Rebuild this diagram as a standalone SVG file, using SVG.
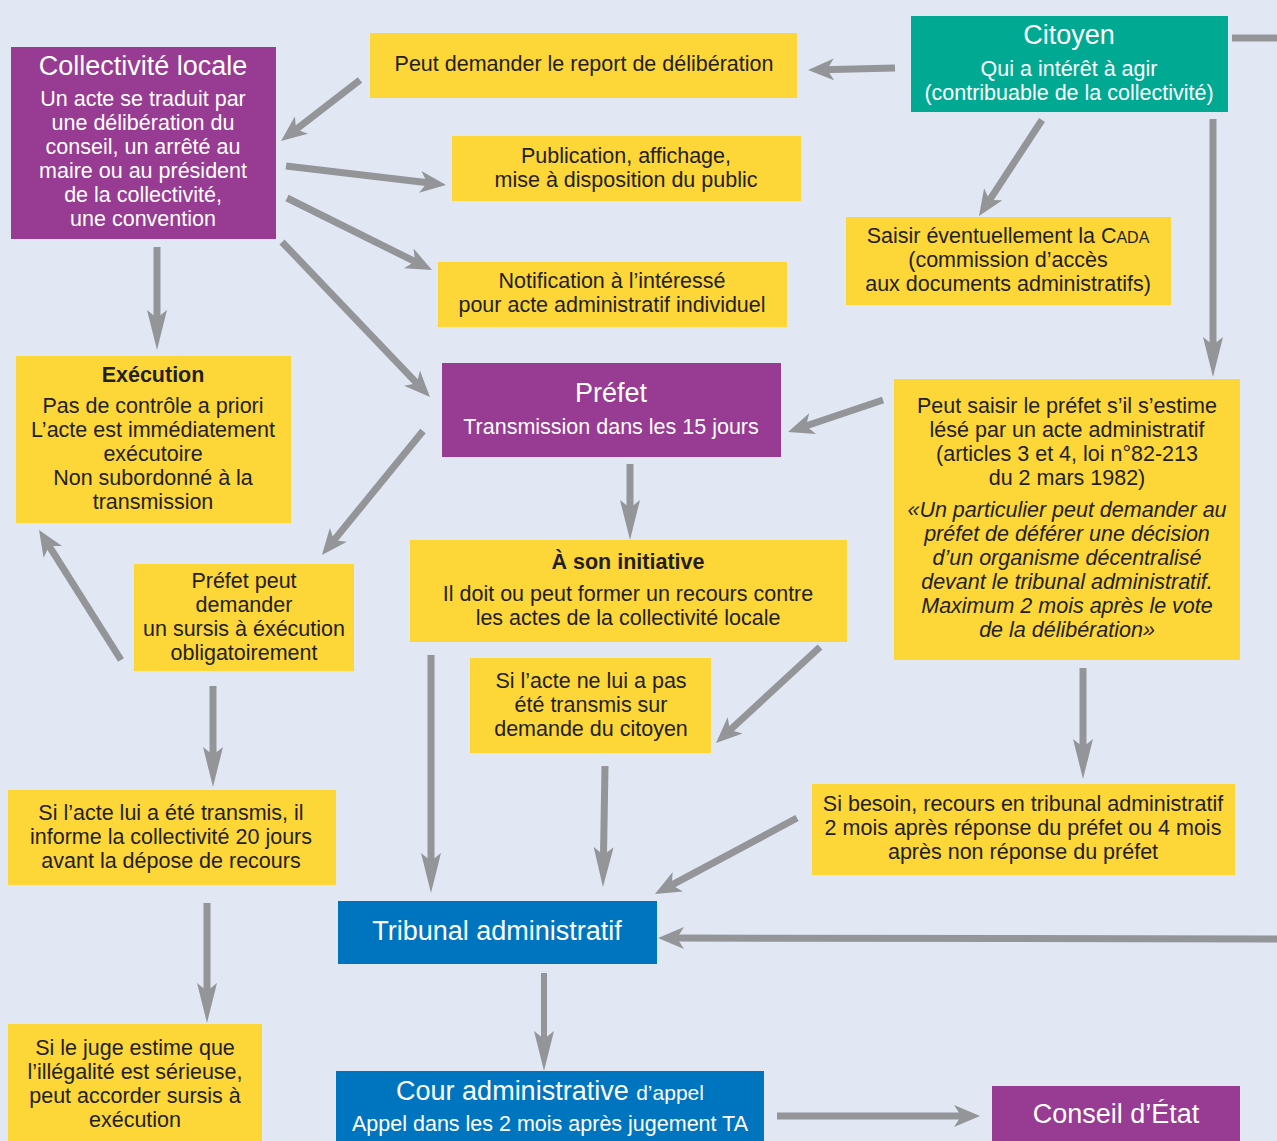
<svg xmlns="http://www.w3.org/2000/svg" width="1277" height="1141" viewBox="0 0 1277 1141">
<defs>
<style>
.bg{fill:#e1e8f4}
.y{fill:#fdd638}
.p{fill:#973b93}
.g{fill:#00a991}
.b{fill:#0075bf}
text{font-family:"Liberation Sans",Arial,Helvetica,sans-serif;text-anchor:middle}
.t{font-size:21.5px;fill:#231f20}
.tb{font-size:21.5px;fill:#231f20;font-weight:bold}
.ti{font-size:21.5px;fill:#231f20;font-style:italic}
.w{font-size:21.5px;fill:#ffffff}
.wh{font-size:27px;fill:#ffffff}
.c line{stroke:#939598;stroke-width:7;fill:none}
.c line.s{marker-end:url(#ah)}
.c line.l{marker-end:url(#al)}
</style>
<marker id="ah" markerUnits="userSpaceOnUse" viewBox="0 -11 26 22" refX="12" refY="0" markerWidth="26" markerHeight="22" orient="auto">
<path d="M0,-11 L26,0 L0,11 L7,0 Z" fill="#939598"/>
</marker>
<marker id="al" markerUnits="userSpaceOnUse" viewBox="0 -10 40 20" refX="20" refY="0" markerWidth="40" markerHeight="20" orient="auto">
<path d="M0,-10 L40,0 L0,10 L8,0 Z" fill="#939598"/>
</marker>
</defs>
<rect class="bg" x="0" y="0" width="1277" height="1141"/>

<g id="connectors" class="c">
<line class="s" x1="360" y1="80" x2="292.1" y2="132.4"/>
<line class="s" x1="895" y1="68" x2="822" y2="69.7"/>
<line class="s" x1="286" y1="166" x2="432.1" y2="183.3"/>
<line class="s" x1="287" y1="198" x2="419.5" y2="263.8"/>
<line class="s" x1="282" y1="242" x2="420.3" y2="386.9"/>
<line class="l" x1="157" y1="247" x2="157" y2="330"/>
<line class="s" x1="1042" y1="120" x2="986.7" y2="204.3"/>
<line class="l" x1="1213" y1="119" x2="1213" y2="357"/>
<line class="s" x1="883" y1="400" x2="801.3" y2="427.5"/>
<line class="l" x1="630" y1="464" x2="630" y2="520"/>
<line class="s" x1="423" y1="431" x2="330.8" y2="544.1"/>
<line class="s" x1="121" y1="660" x2="46.5" y2="541.8"/>
<line class="l" x1="213" y1="686" x2="213" y2="767"/>
<line class="s" x1="820" y1="647" x2="726.3" y2="733.5"/>
<line class="l" x1="431" y1="655" x2="431" y2="873"/>
<line class="l" x1="605" y1="766" x2="603.3" y2="867"/>
<line class="l" x1="1083" y1="668" x2="1083" y2="759"/>
<line class="s" x1="797" y1="818" x2="667.3" y2="887.4"/>
<line class="s" x1="1277" y1="939" x2="672" y2="938"/>
<line class="l" x1="207" y1="903" x2="207" y2="1003"/>
<line class="l" x1="544" y1="973" x2="544" y2="1051" style="stroke-width:6"/>
<line class="s" x1="777" y1="1116" x2="966" y2="1116"/>
<line x1="1232" y1="38" x2="1277" y2="38"/>
</g>

<g id="collectivite">
<rect class="p" x="11" y="47" width="265" height="192"/>
<text class="wh" x="143" y="75">Collectivité locale</text>
<text class="w" x="143" y="106">Un acte se traduit par</text>
<text class="w" x="143" y="130">une délibération du</text>
<text class="w" x="143" y="154">conseil, un arrêté au</text>
<text class="w" x="143" y="178">maire ou au président</text>
<text class="w" x="143" y="202">de la collectivité,</text>
<text class="w" x="143" y="226">une convention</text>
</g>

<g id="report">
<rect class="y" x="370" y="33" width="427" height="65"/>
<text class="t" x="584" y="71">Peut demander le report de délibération</text>
</g>

<g id="citoyen">
<rect class="g" x="911" y="16" width="317" height="96"/>
<text class="wh" x="1069" y="44">Citoyen</text>
<text class="w" x="1069" y="76">Qui a intérêt à agir</text>
<text class="w" x="1069" y="100">(contribuable de la collectivité)</text>
</g>

<g id="publication">
<rect class="y" x="452" y="136" width="349" height="65"/>
<text class="t" x="626" y="163">Publication, affichage,</text>
<text class="t" x="626" y="187">mise à disposition du public</text>
</g>

<g id="cada">
<rect class="y" x="846" y="217" width="325" height="88"/>
<text class="t" x="1008" y="243">Saisir éventuellement la C<tspan style="font-size:16px">ADA</tspan></text>
<text class="t" x="1008" y="267">(commission d’accès</text>
<text class="t" x="1008" y="291">aux documents administratifs)</text>
</g>

<g id="notification">
<rect class="y" x="438" y="262" width="349" height="65"/>
<text class="t" x="612" y="288">Notification à l’intéressé</text>
<text class="t" x="612" y="312">pour acte administratif individuel</text>
</g>

<g id="prefet">
<rect class="p" x="442" y="363" width="339" height="94"/>
<text class="wh" x="611" y="402">Préfet</text>
<text class="w" x="611" y="434">Transmission dans les 15 jours</text>
</g>

<g id="execution">
<rect class="y" x="16" y="356" width="275" height="167"/>
<text class="tb" x="153" y="382">Exécution</text>
<text class="t" x="153" y="413">Pas de contrôle a priori</text>
<text class="t" x="153" y="437">L’acte est immédiatement</text>
<text class="t" x="153" y="461">exécutoire</text>
<text class="t" x="153" y="485">Non subordonné à la</text>
<text class="t" x="153" y="509">transmission</text>
</g>

<g id="saisir-prefet">
<rect class="y" x="894" y="379" width="346" height="281"/>
<text class="t" x="1067" y="413">Peut saisir le préfet s’il s’estime</text>
<text class="t" x="1067" y="437">lésé par un acte administratif</text>
<text class="t" x="1067" y="461">(articles 3 et 4, loi n°82-213</text>
<text class="t" x="1067" y="485">du 2 mars 1982)</text>
<text class="ti" x="1067" y="517">«Un particulier peut demander au</text>
<text class="ti" x="1067" y="541">préfet de déférer une décision</text>
<text class="ti" x="1067" y="565">d’un organisme décentralisé</text>
<text class="ti" x="1067" y="589">devant le tribunal administratif.</text>
<text class="ti" x="1067" y="613">Maximum 2 mois après le vote</text>
<text class="ti" x="1067" y="637">de la délibération»</text>
</g>

<g id="initiative">
<rect class="y" x="410" y="540" width="437" height="102"/>
<text class="tb" x="628" y="569">À son initiative</text>
<text class="t" x="628" y="601">Il doit ou peut former un recours contre</text>
<text class="t" x="628" y="625">les actes de la collectivité locale</text>
</g>

<g id="sursis">
<rect class="y" x="134" y="564" width="220" height="107"/>
<text class="t" x="244" y="588">Préfet peut</text>
<text class="t" x="244" y="612">demander</text>
<text class="t" x="244" y="636">un sursis à éxécution</text>
<text class="t" x="244" y="660">obligatoirement</text>
</g>

<g id="non-transmis">
<rect class="y" x="470" y="658" width="241" height="95"/>
<text class="t" x="591" y="688">Si l’acte ne lui a pas</text>
<text class="t" x="591" y="712">été transmis sur</text>
<text class="t" x="591" y="736">demande du citoyen</text>
</g>

<g id="transmis">
<rect class="y" x="8" y="790" width="328" height="95"/>
<text class="t" x="171" y="820">Si l’acte lui a été transmis, il</text>
<text class="t" x="171" y="844">informe la collectivité 20 jours</text>
<text class="t" x="171" y="868">avant la dépose de recours</text>
</g>

<g id="besoin">
<rect class="y" x="812" y="784" width="423" height="91"/>
<text class="t" x="1023" y="811">Si besoin, recours en tribunal administratif</text>
<text class="t" x="1023" y="835">2 mois après réponse du préfet ou 4 mois</text>
<text class="t" x="1023" y="859">après non réponse du préfet</text>
</g>

<g id="tribunal">
<rect class="b" x="338" y="901" width="319" height="63"/>
<text class="wh" x="497" y="940">Tribunal administratif</text>
</g>

<g id="juge">
<rect class="y" x="8" y="1024" width="254" height="117"/>
<text class="t" x="135" y="1055">Si le juge estime que</text>
<text class="t" x="135" y="1079">l’illégalité est sérieuse,</text>
<text class="t" x="135" y="1103">peut accorder sursis à</text>
<text class="t" x="135" y="1127">exécution</text>
</g>

<g id="cour">
<rect class="b" x="336" y="1071" width="428" height="70"/>
<text class="wh" x="550" y="1100">Cour administrative <tspan style="font-size:21px">d’appel</tspan></text>
<text class="w" x="550" y="1131" style="font-size:21.5px">Appel dans les 2 mois après jugement TA</text>
</g>

<g id="conseil">
<rect class="p" x="992" y="1086" width="248" height="55"/>
<text class="wh" x="1116" y="1123">Conseil d’État</text>
</g>
</svg>
